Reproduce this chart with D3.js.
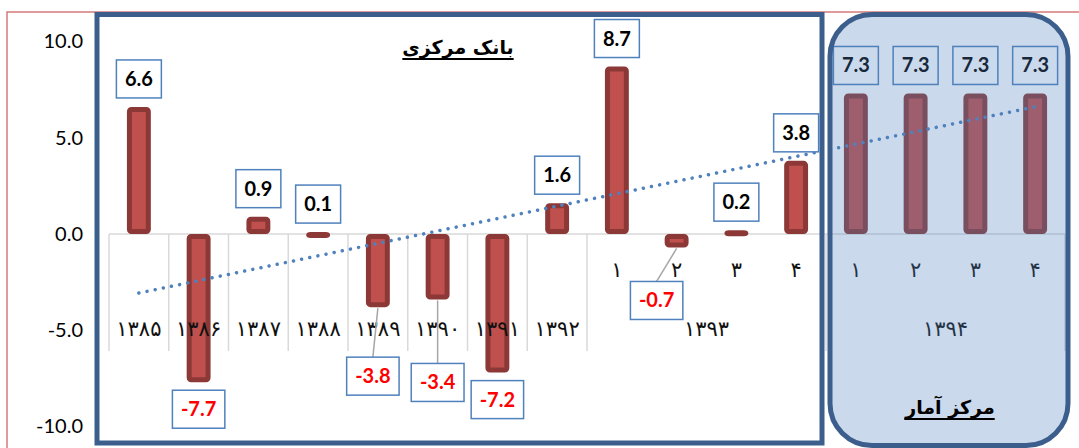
<!DOCTYPE html>
<meta charset="utf-8">
<style>
  body { margin: 0; background: #fff; }
  svg text { font-family: Lato, "Liberation Sans", sans-serif; }
  .fa { font-family: "DejaVu Sans", sans-serif; }
</style>
<script src="https://d3js.org/d3.v7.min.js"></script>
<div id="chart"></div>
<script>
// values (growth %, bank vs statistics centre)
var values = [6.6, -7.7, 0.9, 0.1, -3.8, -3.4, -7.2, 1.6, 8.7, -0.7, 0.2, 3.8, 7.3, 7.3, 7.3, 7.3];
var quarterLabels = ["", "", "", "", "", "", "", "", "۱", "۲", "۳", "۴", "۱", "۲", "۳", "۴"];
var yearLabels = ["۱۳۸۵", "۱۳۸۶", "۱۳۸۷", "۱۳۸۸", "۱۳۸۹", "۱۳۹۰", "۱۳۹۱", "۱۳۹۲", "۱۳۹۳", "۱۳۹۴"];
var yearSpans = [1, 1, 1, 1, 1, 1, 1, 1, 4, 4];
var sourceNames = ["بانک مرکزی", "مرکز آمار"];
var yTicks = [10, 5, 0, -5, -10];

// labels that Excel had dragged away from their bar (pixels)
var labelNudge = {4: [-5, 42], 5: [0, 56], 9: [-20, 26]};

var width = 1079, height = 448;
var fmt = function(v) { return d3.format(".1f")(v).replace("−", "-"); };

var svg = d3.select("#chart").append("svg")
    .attr("width", width)
    .attr("height", height);

var x = d3.scaleBand()
    .domain(d3.range(values.length))
    .range([109, 1065]);

var y = d3.scaleLinear()
    .domain([-10, 10])
    .range([426.5, 41.5]);

var barW = x.bandwidth() * 0.4;
var cx = function(i) { return x(i) + x.bandwidth() / 2; };

// outer chart frame
svg.append("rect")
    .attr("x", 7).attr("y", 12)
    .attr("width", 1080).attr("height", 460)
    .attr("fill", "none")
    .attr("stroke", "#D47B79")
    .attr("stroke-width", 1.5);

// y axis
var yAxis = svg.append("g")
    .attr("transform", "translate(92,0)")
    .call(d3.axisLeft(y).tickValues(yTicks).tickFormat(fmt).tickSize(0).tickPadding(9));
yAxis.select(".domain").remove();
yAxis.selectAll("text")
    .attr("font-size", "20px")
    .attr("fill", "#000")
    .style("font-family", "Lato, sans-serif");

// zero line
svg.append("line")
    .attr("x1", 109).attr("x2", 1065)
    .attr("y1", y(0)).attr("y2", y(0))
    .attr("stroke", "#D9D9D9")
    .attr("stroke-width", 1.5);

// category separators
var starts = [0];
yearSpans.forEach(function(s, i) { starts.push(starts[i] + s); });
starts.forEach(function(s) {
  var xx = s < values.length ? x(s) : x.range()[1];
  svg.append("line")
      .attr("x1", xx).attr("x2", xx)
      .attr("y1", y(0)).attr("y2", 351)
      .attr("stroke", "#D9D9D9")
      .attr("stroke-width", 1.5);
});

// bars
svg.selectAll(".bar")
    .data(values)
    .enter().append("rect")
      .attr("x", function(d, i) { return cx(i) - barW / 2 + 2.5; })
      .attr("y", function(d) { return Math.min(y(d), y(0)) + 2.5; })
      .attr("width", barW - 5)
      .attr("height", function(d) { return Math.max(Math.abs(y(d) - y(0)) - 5, 1); })
      .attr("rx", 2)
      .attr("fill", "#C0504D")
      .attr("stroke", "#8C3836")
      .attr("stroke-width", 5)
      .attr("stroke-linejoin", "round");

// category labels (drawn over the bars, like Excel does)
svg.selectAll(".year")
    .data(yearLabels)
    .enter().append("text")
      .attr("class", "fa")
      .attr("x", function(d, i) {
        var a = x(starts[i]);
        var b = starts[i + 1] < values.length ? x(starts[i + 1]) : x.range()[1];
        return (a + b) / 2;
      })
      .attr("y", 336)
      .attr("text-anchor", "middle")
      .attr("font-size", "21px")
      .attr("fill", "#111")
      .text(function(d) { return d; });

svg.selectAll(".quarter")
    .data(quarterLabels)
    .enter().append("text")
      .attr("class", "fa")
      .attr("x", function(d, i) { return cx(i); })
      .attr("y", 277)
      .attr("text-anchor", "middle")
      .attr("font-size", "21px")
      .attr("fill", "#111")
      .text(function(d) { return d; });

// linear trend line
var n = values.length;
var mx = d3.mean(d3.range(n)), my = d3.mean(values);
var slope = d3.sum(values, function(v, i) { return (i - mx) * (v - my); }) /
            d3.sum(d3.range(n), function(i) { return (i - mx) * (i - mx); });
var icpt = my - slope * mx;
svg.append("line")
    .attr("x1", cx(0)).attr("y1", y(icpt))
    .attr("x2", cx(n - 1)).attr("y2", y(icpt + slope * (n - 1)))
    .attr("stroke", "#4F81BD")
    .attr("stroke-width", 3.5)
    .attr("stroke-linecap", "round")
    .attr("stroke-dasharray", "0.01 8.3");

// data labels
var lbl = svg.selectAll(".lbl")
    .data(values)
    .enter().append("g");

lbl.each(function(v, i) {
  var g = d3.select(this);
  var nud = labelNudge[i] || [0, 0];
  var h = 38;
  var bx = cx(i) + nud[0];
  var top = v >= 0 ? y(v) - 9 - h : y(v) + 8 + nud[1];
  if (labelNudge[i]) {
    g.append("line")
        .attr("x1", cx(i)).attr("y1", y(v) + 1)
        .attr("x2", bx).attr("y2", top)
        .attr("stroke", "#A6A6A6")
        .attr("stroke-width", 1.5);
  }
  var box = g.append("rect");
  var t = g.append("text")
      .attr("x", bx)
      .attr("y", top + h / 2 + 7)
      .attr("text-anchor", "middle")
      .attr("font-size", "20px")
      .attr("font-weight", "bold")
      .attr("fill", v < 0 ? "#FF0000" : "#000")
      .text(fmt(v));
  var w = t.node().getBBox().width + 17;
  box.attr("x", bx - w / 2).attr("y", top)
      .attr("width", w).attr("height", h)
      .attr("fill", "#fff")
      .attr("stroke", "#4F81BD")
      .attr("stroke-width", 1.5);
});

// source panels
svg.append("rect")
    .attr("x", 97).attr("y", 14.5)
    .attr("width", 725).attr("height", 428.5)
    .attr("fill", "none")
    .attr("stroke", "#3B5E8C")
    .attr("stroke-width", 5);

svg.append("rect")
    .attr("x", 830).attr("y", 14.5)
    .attr("width", 238).attr("height", 431)
    .attr("rx", 42).attr("ry", 42)
    .attr("fill", "#4F81BD")
    .attr("fill-opacity", 0.3)
    .attr("stroke", "#3B5E8C")
    .attr("stroke-width", 5);

var srcPos = [[458, 54], [950, 414]];
sourceNames.forEach(function(s, i) {
  var t = svg.append("text")
      .attr("class", "fa")
      .attr("x", srcPos[i][0])
      .attr("y", srcPos[i][1])
      .attr("text-anchor", "middle")
      .attr("font-size", "19px")
      .attr("font-weight", "bold")
      .attr("fill", "#000")
      .attr("direction", "rtl")
      .text(s);
  var bb = t.node().getBBox();
  svg.append("line")
      .attr("x1", bb.x).attr("x2", bb.x + bb.width)
      .attr("y1", srcPos[i][1] + 5).attr("y2", srcPos[i][1] + 5)
      .attr("stroke", "#000")
      .attr("stroke-width", 1.8);
});
</script>
